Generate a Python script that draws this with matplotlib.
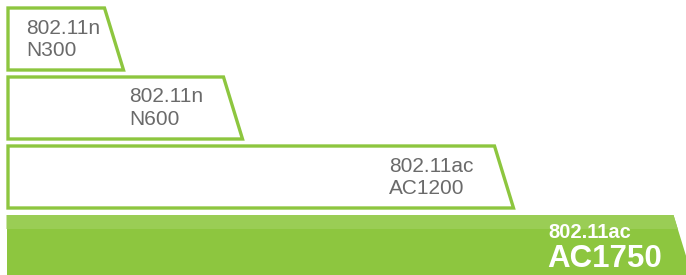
import matplotlib.pyplot as plt
from matplotlib.patches import Polygon

# Bar data (lengths in pixel-like units of a 686 wide canvas)
standards = ["802.11n", "802.11n", "802.11ac", "802.11ac"]
classes = ["N300", "N600", "AC1200", "AC1750"]
bar_ends = [114, 233, 504, 683]

GREEN = "#8dc63f"
GREEN_LIGHT = "#9acd55"
GREY_TEXT = "#6a6a6a"

plt.rcParams['font.family'] = ['Liberation Sans', 'DejaVu Sans']

fig = plt.figure(figsize=(6.86, 2.75), dpi=100)
ax = fig.add_axes([0, 0, 1, 1])
ax.set_xlim(0, 686)
ax.set_ylim(275, 0)
ax.axis('off')

left = 8
height = 62
slant = 9.5  # half of the horizontal shift of the slanted end
label_offsets = [88, 104, 115, 135]

for i, (std, cls, end) in enumerate(zip(standards, classes, bar_ends)):
    top = 8 + 69 * i
    last = i == len(bar_ends) - 1
    bottom = top + (height + 10 if last else height)
    k = 2 * slant / height
    pts = [(left, top), (end - slant, top),
           (end - slant + k * (bottom - top), bottom), (left, bottom)]
    tx = end - label_offsets[i]
    if last:
        ax.add_patch(Polygon(pts, closed=True, facecolor=GREEN, edgecolor='none'))
        band = 14
        ax.add_patch(Polygon([(left - 1.5, top), (end - slant, top),
                              (end - slant + k * band, top + band), (left - 1.5, top + band)],
                             closed=True, facecolor=GREEN_LIGHT, edgecolor='none'))
        ax.add_patch(Polygon([(left - 1.5, top + band), (left, top + band),
                              (left, bottom), (left - 1.5, bottom)],
                             closed=True, facecolor=GREEN, edgecolor='none'))
        ax.text(tx, top + 17, std, color='white', fontsize=14.5, fontweight='bold',
                va='center', ha='left')
        ax.text(tx - 1, top + 44, cls, color='white', fontsize=22.5, fontweight='bold',
                va='center', ha='left')
    else:
        ax.add_patch(Polygon(pts, closed=True, facecolor='white', edgecolor=GREEN,
                             linewidth=2.4, joinstyle='miter'))
        ax.text(tx, top + 20, std, color=GREY_TEXT, fontsize=15, va='center', ha='left')
        ax.text(tx, top + 42.5, cls, color=GREY_TEXT, fontsize=15, va='center', ha='left')

fig.savefig('out.png', dpi=100)
